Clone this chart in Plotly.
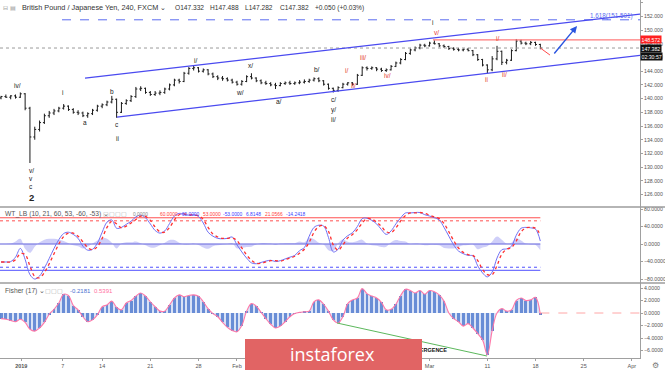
import plotly.graph_objects as go

# ---------------- data ----------------
bar_start_day = -1.5      # trading-day index of first bar (0 = 1 Jan 2019)
bar_step_day = 0.5

open_ = [140.1,140.3,140.2,140.4,140.2,140.7,138.6,134.4,135.5,136.5,
         137.5,137.9,138.2,138.6,138.9,138.4,138.0,137.9,137.5,137.8,
         138.3,138.9,139.1,139.5,139.9,138.0,139.3,139.7,140.3,141.4,
         141.5,140.9,140.6,140.8,140.9,141.4,142.0,142.7,142.5,143.7,
         144.4,144.5,144.0,144.2,143.6,143.2,143.0,142.9,142.7,142.4,
         142.1,142.5,143.2,143.0,142.6,142.3,142.2,142.0,141.9,142.2,
         142.3,142.2,142.3,142.4,142.5,142.7,142.9,142.6,142.1,141.5,
         141.2,141.6,142.1,142.3,142.1,143.4,144.5,144.4,144.5,144.3,
         144.1,144.2,144.7,145.2,145.7,146.6,147.1,147.4,147.8,147.7,
         148.1,148.0,147.7,147.6,147.3,147.2,147.1,147.2,147.0,146.4,
         145.7,144.9,144.2,145.8,146.9,145.3,145.6,147.0,148.4,148.1,
         148.0,148.2,147.9]
high = [140.4,140.6,140.5,140.6,140.9,140.8,138.8,135.9,136.8,137.8,
        138.2,138.5,138.8,139.2,139.0,138.6,138.3,138.1,138.0,138.5,
        139.1,139.3,139.7,140.4,140.0,139.5,139.9,140.5,141.7,141.8,
        141.6,141.1,141.1,141.2,141.6,142.2,142.9,142.9,143.9,144.6,
        144.8,144.6,144.4,144.3,143.8,143.4,143.3,143.1,142.9,142.6,
        142.7,143.4,143.7,143.1,142.8,142.6,142.4,142.3,142.4,142.5,
        142.6,142.5,142.7,142.8,142.9,143.1,143.1,142.7,142.2,141.6,
        141.8,142.3,142.4,142.4,143.6,144.7,144.7,144.7,144.6,144.5,
        144.4,144.9,145.4,145.9,146.8,147.3,147.6,148.0,148.0,148.3,
        148.5,148.1,147.9,147.7,147.5,147.4,147.3,147.4,147.1,146.5,
        145.8,145.0,146.2,147.7,147.0,145.8,147.2,148.7,148.6,148.3,
        148.4,148.3,148.0]
low = [139.9,140.1,139.9,140.0,140.1,138.3,130.6,134.0,135.2,136.3,
       137.2,137.6,138.0,138.4,138.2,137.8,137.6,137.3,137.2,137.6,
       138.1,138.6,138.9,139.3,137.2,137.9,139.1,139.5,140.1,141.1,
       140.7,140.4,140.4,140.5,140.7,141.2,141.8,142.2,142.4,143.5,
       144.1,143.8,143.8,143.4,143.0,142.7,142.6,142.5,142.2,141.9,
       141.9,142.4,142.8,142.4,142.1,142.0,141.8,141.4,141.8,142.0,
       142.0,142.0,142.1,142.2,142.3,142.5,142.4,141.9,141.3,140.9,
       141.0,141.5,141.9,141.9,142.0,143.3,144.1,144.2,144.0,143.9,
       143.9,144.1,144.6,145.0,145.6,146.4,146.9,147.2,147.5,147.6,
       147.9,147.5,147.4,147.1,147.0,146.9,146.9,146.9,146.2,145.5,
       144.7,143.7,144.0,145.6,144.9,145.0,145.5,146.9,147.9,147.8,
       147.8,147.7,147.2]
close = [140.3,140.2,140.4,140.2,140.7,138.6,134.4,135.5,136.5,137.5,
         137.9,138.2,138.6,138.9,138.4,138.0,137.9,137.5,137.8,138.3,
         138.9,139.1,139.5,139.9,138.0,139.3,139.7,140.3,141.4,141.5,
         140.9,140.6,140.8,140.9,141.4,142.0,142.7,142.5,143.7,144.4,
         144.5,144.0,144.2,143.6,143.2,143.0,142.9,142.7,142.4,142.1,
         142.5,143.2,143.0,142.6,142.3,142.2,142.0,141.9,142.2,142.3,
         142.2,142.3,142.4,142.5,142.7,142.9,142.6,142.1,141.5,141.2,
         141.6,142.1,142.3,142.1,143.4,144.5,144.4,144.5,144.3,144.1,
         144.2,144.7,145.2,145.7,146.6,147.1,147.4,147.8,147.7,148.1,
         148.0,147.7,147.6,147.3,147.2,147.1,147.2,147.0,146.4,145.7,
         144.9,144.2,145.8,146.9,145.3,145.6,147.0,148.4,148.1,148.0,
         148.2,147.9,147.382]

wt1 = [-41,-41,-40,-30,-10,-35,-70,-80,-73,-55,
       -33,-10,10,24,27,22,13,-5,-14,-12,
       2,27,50,55,36,38,45,52,62,66,
       60,46,31,25,30,47,64,70,68,66,
       67,63,48,27,18,13,12,13,16,-2,
       -18,-32,-43,-45,-42,-39,-37,-40,-38,-34,
       -30,-26,-15,-8,18,38,43,41,15,-18,
       -12,9,19,26,40,58,59,54,46,33,
       22,30,46,60,71,71,72,72,67,64,
       60,55,38,18,-2,-16,-22,-26,-27,-50,
       -66,-75,-64,-32,-13,-11,-5,20,36,38,
       37,34,6.8148]
wt2 = [-41,-41,-41,-36,-22,-24,-50,-74,-77,-65,
       -45,-22,0,17,25,25,18,5,-8,-13,
       -6,13,38,52,46,37,41,48,56,64,
       63,54,39,28,27,38,55,67,69,67,
       66,65,56,38,23,16,13,13,14,8,
       -9,-25,-37,-44,-44,-41,-38,-38,-39,-36,
       -32,-28,-21,-12,4,27,40,42,29,-2,
       -14,-2,14,22,33,48,58,57,50,40,
       28,26,37,53,65,71,71,72,70,66,
       62,58,47,28,8,-9,-19,-24,-26,-38,
       -58,-70,-70,-49,-23,-12,-8,7,28,37,
       38,36,21.0566]
fisher = [-0.9,-1.0,-1.2,-1.4,-1.0,-1.5,-2.6,-2.9,-2.4,-1.5,
          -0.2,0.6,1.6,3.0,2.8,1.2,0.5,-0.6,-1.4,-1.1,
          -0.3,1.0,1.3,1.9,0.9,0.5,1.6,2.0,2.7,3.2,
          2.7,1.8,1.0,0.3,0.3,1.3,2.4,2.9,2.6,2.8,
          2.9,2.7,1.8,0.7,-0.1,-0.6,-1.5,-2.3,-2.8,-3.0,
          -2.0,0.3,1.5,1.1,0.1,-0.9,-1.8,-2.4,-2.1,-1.4,
          -0.6,-0.1,0.1,0.2,0.3,1.8,2.1,1.4,0.3,-1.1,
          -1.6,-0.6,1.5,2.1,2.4,3.9,3.1,2.7,2.4,1.7,
          0.5,0.6,1.4,2.8,3.8,3.6,3.2,3.6,3.0,3.6,
          3.4,2.9,1.9,0.0,-0.9,-1.4,-2.1,-1.7,-2.4,-3.3,
          -4.3,-6.7,-2.8,0.0,0.7,0.3,0.5,2.0,2.4,2.0,
          2.1,2.5,-0.2181]

x_tick_days = [0.6, 4.9, 9, 14, 19, 23, 29, 34, 39, 43, 49, 54, 59, 64]
x_tick_labels = ["<b>2019</b>", "7", "14", "21", "28", "Feb", "11", "18", "25",
                 "Mar", "11", "18", "25", "Apr"]
price_ticks = [126, 128, 130, 132, 134, 136, 138, 140, 142, 144, 146, 148, 150, 152, 154]
wt_ticks = [-80, -40, 0, 40, 80]
fisher_ticks = [-6, -4, -2, 0, 2, 4]

last_price = 147.382
resistance = 148.572
fib_target = 151.501
wt_levels = [60, 53, -60, -53]

upper_channel_days = [7.22, 64.85]
upper_channel_price = [143.0, 152.32]
lower_channel_days = [10.54, 64.85]
lower_channel_price = [137.31, 146.31]
projection_days = [54.5, 55.5]
projection_price = [147.382, 146.36]
arrow_from = (55.82, 146.36)
arrow_to = (58.31, 150.6)
divergence_days = [33.39, 48.96]
divergence_vals = [-1.6, -6.88]

black_labels = [("iv/", 0.16, 141.84), ("i", 4.93, 140.82), ("a", 7.22, 136.58),
                ("b", 10.02, 141.11), ("c", 10.54, 136.15), ("ii", 10.54, 134.25),
                ("v/", 1.61, 129.55), ("v", 1.61, 128.4), ("c", 1.61, 127.1),
                ("i/", 18.74, 145.6), ("w/", 23.31, 140.96), ("x/", 24.45, 144.9),
                ("a/", 27.36, 139.65), ("b/", 31.31, 144.18), ("c/", 32.97, 139.8),
                ("y/", 32.97, 138.34), ("ii/", 32.97, 136.88), ("i", 43.35, 151.18)]
red_labels = [("i/", 34.32, 144.03), ("ii/", 35.05, 141.98), ("iii/", 36.08, 145.93),
              ("iv/", 38.58, 143.3), ("v/", 43.67, 149.58), ("i/", 50.1, 148.7),
              ("ii", 48.86, 142.86), ("ii/", 50.73, 143.45)]

# ---------------- figure ----------------
FONT = "Liberation Sans, Arial, sans-serif"
bar_x = [bar_start_day + bar_step_day * i for i in range(len(close))]
x_left, x_right = -1.61, 64.85
wt_diff = [a - b for a, b in zip(wt1, wt2)]

fig = go.Figure()

# price pane
fig.add_trace(go.Scatter(x=[x_left, x_right], y=[last_price] * 2, mode="lines",
                         line=dict(color="#9a9a9a", width=1, dash="dot"), yaxis="y"))
fig.add_trace(go.Scatter(x=[4.83, x_right], y=[fib_target] * 2, mode="lines",
                         line=dict(color="#5a6cf0", width=1, dash="dash"), yaxis="y"))
fig.add_trace(go.Scatter(x=[43.35, x_right], y=[resistance] * 2, mode="lines",
                         line=dict(color="#ff7a7a", width=1.2), yaxis="y"))
fig.add_trace(go.Scatter(x=upper_channel_days, y=upper_channel_price, mode="lines",
                         line=dict(color="#4a4af0", width=1.2), yaxis="y"))
fig.add_trace(go.Scatter(x=lower_channel_days, y=lower_channel_price, mode="lines",
                         line=dict(color="#4a4af0", width=1.2), yaxis="y"))
fig.add_trace(go.Ohlc(x=bar_x, open=open_, high=high, low=low, close=close,
                      increasing=dict(line=dict(color="#1a1a1a", width=1)),
                      decreasing=dict(line=dict(color="#1a1a1a", width=1)),
                      tickwidth=0.3, yaxis="y", xaxis="x"))
fig.add_trace(go.Scatter(x=projection_days, y=projection_price, mode="lines",
                         line=dict(color="#ff4a4a", width=1), yaxis="y"))

# WT pane
fig.add_trace(go.Scatter(x=bar_x, y=wt_diff, mode="lines", fill="tozeroy", line_shape="spline",
                         fillcolor="rgba(130,130,240,0.38)", line=dict(width=0),
                         yaxis="y2"))
fig.add_trace(go.Scatter(x=[x_left, bar_x[-1]], y=[0, 0], mode="lines",
                         line=dict(color="rgba(120,120,225,0.8)", width=1.5), yaxis="y2"))
for lv in wt_levels:
    col = "#ff5050" if lv > 0 else "#5050ff"
    dash = "solid" if abs(lv) == 60 else "dot"
    fig.add_trace(go.Scatter(x=[x_left, bar_x[-1]], y=[lv, lv], mode="lines",
                             line=dict(color=col, width=1, dash=dash), yaxis="y2"))
fig.add_trace(go.Scatter(x=bar_x, y=wt1, mode="lines", line_shape="spline",
                         line=dict(color="#7070f5", width=1), yaxis="y2"))
fig.add_trace(go.Scatter(x=bar_x, y=wt2, mode="lines", line_shape="spline",
                         line=dict(color="#ff3030", width=1.3, dash="dot"), yaxis="y2"))

# Fisher pane
fig.add_trace(go.Scatter(x=bar_x, y=fisher, mode="lines", fill="tozeroy",
                         fillcolor="rgba(130,160,225,0.30)", line=dict(width=0),
                         line_shape="spline", yaxis="y3"))
fig.add_trace(go.Bar(x=bar_x, y=fisher, width=0.3, marker=dict(color="#5f86d2", line=dict(width=0)),
                     yaxis="y3"))
fig.add_trace(go.Scatter(x=bar_x, y=fisher, mode="lines", line_shape="spline",
                         line=dict(color="#ff78a8", width=1.1), yaxis="y3"))
fig.add_trace(go.Scatter(x=[bar_x[-1], x_right], y=[0, 0], mode="lines",
                         line=dict(color="rgba(255,130,130,0.7)", width=1, dash="dash"),
                         yaxis="y3"))
fig.add_trace(go.Scatter(x=divergence_days, y=divergence_vals, mode="lines",
                         line=dict(color="#5cb85c", width=1), yaxis="y3"))
fig.add_trace(go.Scatter(x=[44.81], y=[-6.08], mode="text", text=["<b>BULLISH DIVERGENCE</b>"],
                         textposition="middle left",
                         textfont=dict(family=FONT, size=5.5, color="#111"), yaxis="y3"))

# ---------------- layout ----------------
PW, PH = 640.0, 358.0
def px(v):
    return v / PW
def py(v):
    return 1 - v / PH

axis_common = dict(showgrid=False, zeroline=False, showline=True, linecolor="#a0a0a0",
                   ticks="outside", ticklen=2, tickcolor="#a0a0a0", automargin=False,
                   tickfont=dict(family=FONT, size=5.2, color="#555"), side="right",
                   anchor="x", fixedrange=True)

fig.update_layout(
    width=665, height=370, margin=dict(l=0, r=25, t=0, b=12, autoexpand=False),
    paper_bgcolor="white", plot_bgcolor="white", showlegend=False,
    font=dict(family=FONT),
    bargap=0,
    xaxis=dict(domain=[0, 1], range=[x_left, x_right], anchor="y3", automargin=False,
               tickvals=x_tick_days, ticktext=x_tick_labels,
               tickfont=dict(family=FONT, size=5.5, color="#555"),
               showgrid=False, zeroline=False, showline=True, linecolor="#a0a0a0",
               ticks="outside", ticklen=2, tickcolor="#a0a0a0",
               rangeslider=dict(visible=False)),
    yaxis=dict(domain=[1 - 207 / PH, 1], range=[124.18, 154.39], tickvals=price_ticks,
               tickformat=".3f", **axis_common),
    yaxis2=dict(domain=[1 - 283 / PH, 1 - 207 / PH], range=[-89, 84.6], tickvals=wt_ticks,
                tickformat=".4f", **axis_common),
    yaxis3=dict(domain=[0, 1 - 283 / PH], range=[-7.2, 4.8], tickvals=fisher_ticks,
                tickformat=".4f", **axis_common),
)

shapes = []
for sep in (207, 283):
    shapes.append(dict(type="line", xref="paper", yref="paper", x0=0, x1=665 / PW,
                       y0=py(sep), y1=py(sep), line=dict(color="#9c9c9c", width=1.5)))
# instaforex watermark
shapes.append(dict(type="rect", xref="paper", yref="paper", x0=px(245), x1=px(422),
                   y0=py(372), y1=py(339), fillcolor="#e16464", line=dict(width=0),
                   layer="above"))
fig.update_layout(shapes=shapes)

anns = []
def ann(text, xp, yp, size=6.3, color="#444", xanchor="left", **kw):
    d = dict(text=text, xref="paper", yref="paper", x=px(xp), y=py(yp), showarrow=False,
             font=dict(family=FONT, size=size, color=color), xanchor=xanchor,
             yanchor="middle", borderpad=0, borderwidth=0)
    d.update(kw)
    anns.append(d)

# headers
ann("⊟ ▤", 3, 8, size=6, color="#999")
ann("British Pound / Japanese Yen, 240, FXCM ⌄", 22, 8, size=7.3, color="#333")
ann("O147.332", 175, 8, size=6.6, color="#333")
ann("H147.488", 210, 8, size=6.6, color="#333")
ann("L147.282", 245, 8, size=6.6, color="#333")
ann("C147.382", 280, 8, size=6.6, color="#333")
ann("+0.050 (+0.03%)", 315, 8, size=6.6, color="#333")

ann("WT_LB (10, 21, 60, 53, -60, -53) ⌄", 5, 214, size=6.7, color="#555")
ann("▢▢▢▢", 103, 214, size=6, color="#aaa")
ann("0.0000", 133, 214, size=4.9, color="#888")
wt_vals = [("60.0000", 160, "#ff3b3b"), ("-60.0000", 180, "#4040ff"), ("53.0000", 203, "#ff3b3b"),
           ("-53.0000", 223, "#4040ff"), ("6.8148", 246, "#4040ff"), ("21.0566", 265, "#ff3b3b"),
           ("-14.2418", 286, "#4040ff")]
for t, xp, c in wt_vals:
    ann(t, xp, 214, size=4.9, color=c)

ann("Fisher (17) ⌄", 5, 291, size=6.7, color="#555")
ann("▢▢▢", 45, 291, size=6, color="#aaa")
ann("-0.2181", 70, 291, size=6, color="#4a6fd0")
ann("0.5391", 94, 291, size=6, color="#ff6f9f")

# fib label
ann("1.618(151.501)", 633, 15.5, size=6.3, color="#5a6cf0", xanchor="right")

# right axis price boxes
for txt, yv, bg, ys in [("148.572", resistance, "#ff2020", 0), ("147.382", last_price, "#111", 0),
                        ("02:30:57", last_price, "#111", -8)]:
    anns.append(dict(text=txt, xref="paper", yref="y", x=1, y=yv, yshift=ys, showarrow=False,
                     xanchor="left", yanchor="middle", bgcolor=bg, borderpad=0.5,
                     font=dict(family=FONT, size=5.2, color="white")))

# wave labels
for t, d, p in black_labels:
    anns.append(dict(text=t, x=d, y=p, xref="x", yref="y", showarrow=False,
                     font=dict(family=FONT, size=6.5, color="#222")))
for t, d, p in red_labels:
    anns.append(dict(text=t, x=d, y=p, xref="x", yref="y", showarrow=False,
                     font=dict(family=FONT, size=6.5, color="#e53935")))
anns.append(dict(text="<b>2</b>", x=1.61, y=125.5, xref="x", yref="y", showarrow=False,
                 font=dict(family=FONT, size=9.5, color="#222")))

# projection arrow
anns.append(dict(text="", x=arrow_to[0], y=arrow_to[1], ax=arrow_from[0], ay=arrow_from[1],
                 xref="x", yref="y", axref="x", ayref="y", showarrow=True, arrowhead=2,
                 arrowsize=1, arrowwidth=1.4, arrowcolor="#2a55e0"))

# watermark text and gear
ann("instaforex", 332, 354, size=18, color="white", xanchor="center")
anns[-1]["font"]["family"] = "Open Sans, sans-serif"
ann("⚙", 655, 365, size=8, color="#777", xanchor="center")

fig.update_layout(annotations=anns)

fig.write_html("out.html", config={"displayModeBar": False},
               post_script="document.body.style.margin='0';document.body.style.overflow='hidden';")
